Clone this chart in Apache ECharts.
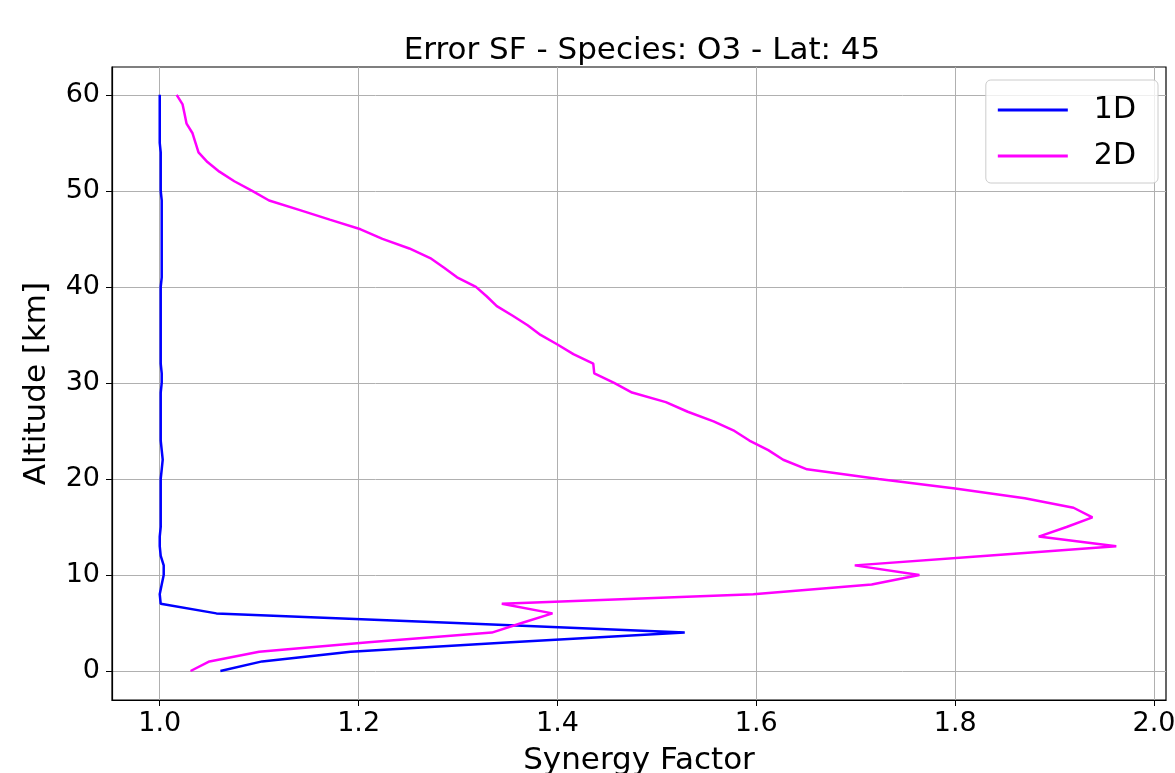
<!DOCTYPE html>
<html>
<head>
<meta charset="utf-8">
<script src="https://cdn.jsdelivr.net/npm/echarts@6/dist/echarts.min.js"></script>
<style>
html,body{margin:0;padding:0;background:#fff;}
#chart{width:1175px;height:773px;}
</style>
</head>
<body>
<div id="chart"></div>
<script>
// Altitude levels [km]
const altitudes = [0,1,2,3,4,5,6,7,8,9,10,11,12,13,14,15,16,17,18,19,20,21,22,23,24,25,26,27,28,29,30,31,32,33,34,35,36,37,38,39,40,41,42,43,44,45,46,47,48,49,50,51,52,53,54,55,56,57,58,59,60];
// Synergy factor, 1D
const sf1D = [1.061,1.103,1.192,1.353,1.528,1.298,1.057,1.001,1.000,1.002,1.004,1.004,1.001,1.000,1.000,1.001,1.001,1.001,1.001,1.001,1.001,1.002,1.003,1.002,1.001,1.001,1.001,1.001,1.001,1.001,1.002,1.002,1.001,1.001,1.001,1.001,1.001,1.001,1.001,1.001,1.001,1.002,1.002,1.002,1.002,1.002,1.002,1.002,1.002,1.002,1.001,1.001,1.001,1.001,1.001,1.000,1.000,1.000,1.000,1.000,1.000];
// Synergy factor, 2D
const sf2D = [1.031,1.050,1.100,1.210,1.334,1.364,1.395,1.344,1.597,1.716,1.764,1.699,1.832,1.962,1.884,1.912,1.938,1.919,1.870,1.800,1.723,1.651,1.627,1.612,1.593,1.578,1.557,1.531,1.509,1.475,1.457,1.437,1.436,1.416,1.400,1.383,1.370,1.355,1.339,1.329,1.318,1.299,1.286,1.272,1.251,1.224,1.202,1.171,1.141,1.110,1.093,1.075,1.060,1.048,1.039,1.036,1.033,1.027,1.025,1.023,1.017];
const xTicks = [1.0,1.2,1.4,1.6,1.8,2.0];
const yTicks = [0,10,20,30,40,50,60];
const seriesNames = ['1D','2D'];
const titleText = 'Error SF - Species: O3 - Lat: 45';

const font = 'DejaVu Sans';
const chart = echarts.init(document.getElementById('chart'), null, {renderer:'canvas'});
const toPairs = (vals) => vals.map((v,i)=>[v, altitudes[i]]);

chart.setOption({
  animation:false,
  backgroundColor:'#fff',
  title:{text:titleText,left:637,textAlign:'center',top:30,
    textStyle:{fontFamily:font,fontSize:31,fontWeight:'normal',color:'#000'}},
  grid:{left:112,right:9,top:67,bottom:73,show:true,borderColor:'#000',borderWidth:1.2,
    containLabel:false,outerBoundsMode:'none'},
  legend:{
    data:seriesNames, orient:'vertical', right:17, top:80,
    icon:'rect', itemWidth:70, itemHeight:3, itemGap:16,
    padding:[15,22,12,12],
    borderColor:'#cccccc', borderWidth:1, borderRadius:5, backgroundColor:'rgba(255,255,255,0.8)',
    textStyle:{fontFamily:font,fontSize:30,color:'#000',padding:[0,0,0,21]}
  },
  xAxis:{
    type:'value', min:0.952, max:2.012,
    name:'Synergy Factor', nameLocation:'middle', nameGap:45,
    nameTextStyle:{fontFamily:font,fontSize:31,color:'#000'},
    axisLine:{show:true,onZero:false,lineStyle:{color:'#000',width:1.2}},
    axisTick:{show:true,length:6,lineStyle:{color:'#000'},customValues:xTicks},
    axisLabel:{fontFamily:font,fontSize:27,color:'#000',margin:10,customValues:xTicks,
      formatter:(v)=>v.toFixed(1)},
    splitLine:{show:true,lineStyle:{color:'#b0b0b0',width:1}}
  },
  yAxis:{
    type:'value', min:-3.02, max:62.9,
    name:'Altitude [km]', nameLocation:'middle', nameGap:60,
    nameTextStyle:{fontFamily:font,fontSize:31,color:'#000'},
    axisLine:{show:true,onZero:false,lineStyle:{color:'#000',width:1.2}},
    axisTick:{show:true,length:6,lineStyle:{color:'#000'},customValues:yTicks},
    axisLabel:{fontFamily:font,fontSize:27,color:'#000',margin:12,customValues:yTicks},
    splitLine:{show:true,lineStyle:{color:'#b0b0b0',width:1}}
  },
  series:[
    {name:seriesNames[0],type:'line',data:toPairs(sf1D),showSymbol:false,symbol:'none',
      lineStyle:{color:'#0000ff',width:2.5},itemStyle:{color:'#0000ff'},z:2},
    {name:seriesNames[1],type:'line',data:toPairs(sf2D),showSymbol:false,symbol:'none',
      lineStyle:{color:'#ff00ff',width:2.5},itemStyle:{color:'#ff00ff'},z:3}
  ]
});
</script>
</body>
</html>
